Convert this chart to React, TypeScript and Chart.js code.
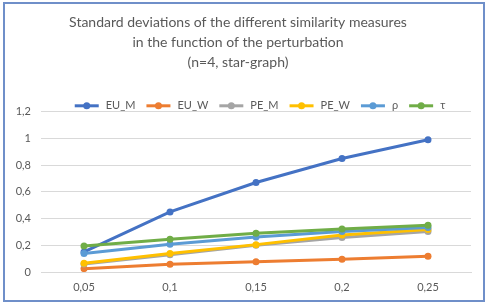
import React, { useEffect, useRef } from "react";
import { Chart, registerables } from "chart.js";

Chart.register(...registerables);

const categories = ["0,05", "0,1", "0,15", "0,2", "0,25"];
const seriesNames = ["EU_M", "EU_W", "PE_M", "PE_W", "ρ", "τ"];
const euM = [0.15, 0.45, 0.67, 0.85, 0.99];
const euW = [0.025, 0.058, 0.077, 0.095, 0.118];
const peM = [0.06, 0.13, 0.2, 0.258, 0.303];
const peW = [0.065, 0.138, 0.205, 0.278, 0.318];
const rho = [0.138, 0.208, 0.263, 0.303, 0.333];
const tau = [0.195, 0.246, 0.291, 0.323, 0.351];
const colors = ["#4472C4", "#ED7D31", "#A5A5A5", "#FFC000", "#5B9BD5", "#70AD47"];
const titleLines = [
  "Standard deviations of the different similarity measures",
  "in the function of the perturbation",
  "(n=4, star-graph)",
];

const FONT = "Lato, 'Open Sans', sans-serif";
const TEXT = "#595959";

const legendPlugin = {
  id: "excelLegend",
  afterDraw(chart: any) {
    const { ctx, chartArea } = chart;
    const ds = chart.data.datasets;
    ctx.save();
    ctx.font = `11px ${FONT}`;
    const lineW = 24;
    const gap = 7;
    const sep = 11;
    const widths = ds.map((d: any) => lineW + gap + ctx.measureText(d.label).width);
    const total = widths.reduce((a: number, b: number) => a + b, 0) + sep * (ds.length - 1);
    let x = (chartArea.left + chartArea.right) / 2 - total / 2 + 4;
    const y = chartArea.top - 6;
    ds.forEach((d: any, i: number) => {
      ctx.strokeStyle = d.borderColor;
      ctx.fillStyle = d.borderColor;
      ctx.lineWidth = 3;
      ctx.beginPath();
      ctx.moveTo(x, y);
      ctx.lineTo(x + lineW, y);
      ctx.stroke();
      ctx.beginPath();
      ctx.arc(x + lineW / 2, y, 3.5, 0, Math.PI * 2);
      ctx.fill();
      ctx.fillStyle = TEXT;
      ctx.textBaseline = "middle";
      ctx.textAlign = "left";
      ctx.fillText(d.label, x + lineW + gap, y);
      x += widths[i] + sep;
    });
    ctx.restore();
  },
};

export default function App() {
  const ref = useRef<HTMLCanvasElement | null>(null);
  useEffect(() => {
    const values = [euM, euW, peM, peW, rho, tau];
    const chart = new Chart(ref.current!, {
      type: "line",
      data: {
        labels: categories,
        datasets: seriesNames.map((name, i) => ({
          label: name,
          data: values[i],
          borderColor: colors[i],
          backgroundColor: colors[i],
          borderWidth: 3,
          pointRadius: 3.5,
          pointHoverRadius: 3.5,
          pointBorderWidth: 0,
          tension: 0,
          order: seriesNames.length - i,
        })),
      },
      options: {
        animation: false,
        responsive: false,
        maintainAspectRatio: false,
        layout: { padding: { left: 0, right: 12, top: 0, bottom: 0 } },
        plugins: {
          title: {
            display: true,
            text: titleLines,
            color: TEXT,
            font: { family: FONT, size: 14, weight: "normal", lineHeight: 1.4 },
            padding: { top: 9, bottom: 40 },
          },
          legend: { display: false },
          tooltip: { enabled: false },
        },
        scales: {
          x: {
            offset: true,
            grid: { display: false, drawTicks: false },
            border: { display: true, color: "#D9D9D9" },
            ticks: { color: TEXT, font: { family: FONT, size: 11 }, padding: 9 },
            afterFit: (s: any) => {
              s.height = 28;
            },
          },
          y: {
            min: 0,
            max: 1.2,
            grid: { color: "#D9D9D9", drawTicks: false },
            border: { display: false },
            ticks: {
              stepSize: 0.2,
              color: TEXT,
              font: { family: FONT, size: 11 },
              padding: 10,
              callback: (v: any) => String(parseFloat(Number(v).toFixed(2))).replace(".", ","),
            },
            afterFit: (s: any) => {
              s.width = 36;
            },
          },
        },
      },
      plugins: [legendPlugin],
    });
    return () => chart.destroy();
  }, []);
  return (
    <div
      style={{
        position: "fixed",
        left: 3,
        top: 2,
        width: 482,
        height: 300,
        boxSizing: "border-box",
        border: "2px solid #6F8FC9",
        background: "#fff",
      }}
    >
      <canvas ref={ref} width={478} height={296} style={{ display: "block" }} />
    </div>
  );
}
